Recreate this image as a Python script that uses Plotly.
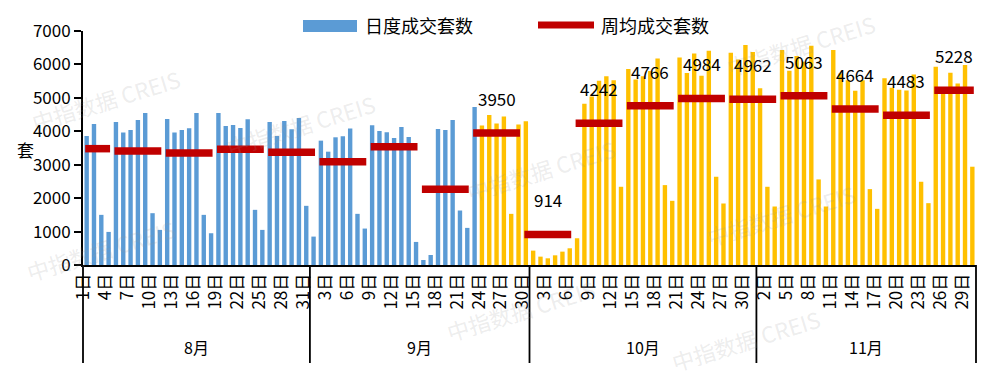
import plotly.graph_objects as go
import pandas as pd

# ---------------- data ----------------
start_date = "2024-08-01"
end_date = "2024-11-30"
highlight_from = "2024-09-24"

aug = [3860, 4220, 1500, 990, 4280, 3960, 4040, 4340, 4550, 1550, 1050,
       4370, 3960, 4040, 4090, 4550, 1500, 950, 4550, 4160, 4190, 4100,
       4360, 1650, 1050, 4280, 3860, 4310, 4060, 4400, 1770]
sep = [850, 3720, 3390, 3820, 3850, 4080, 1530, 1090, 4180, 4010, 3970,
       3800, 4130, 3830, 690, 150, 300, 4070, 4040, 4340, 1630, 1110,
       4730, 4170, 4490, 4230, 4440, 1530, 4200, 4300]
octo = [430, 250, 200, 290, 400, 500, 800, 4820, 5040, 5510, 5650, 5530,
        2340, 5860, 5550, 5650, 5800, 6180, 2390, 1920, 6210, 5740, 6330,
        5660, 6410, 2640, 1840, 6350, 6150, 6580, 6370]
nov = [5290, 2340, 1750, 6430, 5810, 6250, 6080, 6560, 2560, 1750, 6430,
       5730, 5530, 5210, 5530, 2270, 1680, 5590, 5300, 5240, 5220, 5700,
       2490, 1850, 5930, 5240, 5750, 5430, 5980, 2940]

weekly_avg = [3480, 3410, 3350, 3460, 3370, 3090, 3540, 2265, 3950, 914,
              4242, 4766, 4984, 4962, 5063, 4664, 4483, 5228]
weekly_labeled = [False] * 8 + [True] * 10

month_names = ["8月", "9月", "10月", "11月"]
series_names = ["日度成交套数", "周均成交套数"]
y_title = "套"
y_ticks = [0, 1000, 2000, 3000, 4000, 5000, 6000, 7000]
watermark = "中指数据 CREIS"

# ---------------- derived ----------------
daily = aug + sep + octo + nov
dates = pd.date_range(start_date, end_date, freq="D")
n = len(dates)
bar_x = [i + 0.5 for i in range(n)]
bar_colors = ["#5B9BD5" if d < pd.Timestamp(highlight_from) else "#FFC000" for d in dates]

tick_idx = list(range(0, n, 3))
tick_vals = [i + 0.1 for i in tick_idx]
tick_text = [f"{dates[i].day}日" for i in tick_idx]

week_key = dates - pd.to_timedelta(dates.dayofweek, unit="D")
weeks = []
for k in pd.unique(week_key):
    idx = [i for i in range(n) if week_key[i] == k]
    weeks.append((idx[0], idx[-1] + 1))

line_x, line_y = [], []
for (s, e), v in zip(weeks, weekly_avg):
    line_x += [s + 0.3, e - 0.3, None]
    line_y += [v, v, None]

month_bounds = [0]
for m in sorted(set(zip(dates.year, dates.month))):
    month_bounds.append(month_bounds[-1] + sum(1 for d in dates if (d.year, d.month) == m))

# ---------------- figure ----------------
W, H = 989, 377
L, R, T, B = 83, 13, 31, 112
PW, PH = W - L - R, H - T - B


def px(X):
    return (X - L) / PW


def py(Y):
    return (H - B - Y) / PH


FONT = "Noto Sans CJK SC, Noto Sans, sans-serif"

fig = go.Figure()
fig.add_trace(go.Bar(x=bar_x, y=daily, marker=dict(color=bar_colors, line=dict(width=0)),
                     name=series_names[0], showlegend=False, hoverinfo="x+y"))
fig.add_trace(go.Scatter(x=line_x, y=line_y, mode="lines", name=series_names[1],
                         line=dict(color="#C00000", width=7.5), showlegend=False,
                         connectgaps=False))

annotations = []
for (s, e), v, lab in zip(weeks, weekly_avg, weekly_labeled):
    if lab:
        annotations.append(dict(x=(s + e) / 2, y=v, xref="x", yref="y", text=str(v),
                                showarrow=False, xanchor="center", yanchor="bottom", yshift=20,
                                font=dict(size=17, color="black", family=FONT)))

# month labels and separators
shapes = []
for i, name in enumerate(month_names):
    a, b = month_bounds[i], month_bounds[i + 1]
    annotations.append(dict(x=(a + b) / 2 / n, y=py(347), xref="paper", yref="paper",
                            text=name, showarrow=False, xanchor="center", yanchor="middle",
                            font=dict(size=16, color="black", family=FONT)))
for b in month_bounds:
    shapes.append(dict(type="line", xref="paper", yref="paper", x0=b / n, x1=b / n,
                       y0=0, y1=py(363), line=dict(color="black", width=1.8)))

# y title
annotations.append(dict(x=px(25), y=py(149), xref="paper", yref="paper", text=y_title,
                        showarrow=False, xanchor="center", yanchor="middle",
                        font=dict(size=17, color="black", family=FONT)))

# custom legend
shapes.append(dict(type="rect", xref="paper", yref="paper", x0=px(303), x1=px(357),
                   y0=py(32), y1=py(20), fillcolor="#5B9BD5", line=dict(width=0)))
annotations.append(dict(x=px(363), y=py(25), xref="paper", yref="paper", text=series_names[0],
                        showarrow=False, xanchor="left", yanchor="middle",
                        font=dict(size=18, color="black", family=FONT)))
shapes.append(dict(type="line", xref="paper", yref="paper", x0=px(538), x1=px(594),
                   y0=py(25), y1=py(25), line=dict(color="#C00000", width=7)))
annotations.append(dict(x=px(599), y=py(25), xref="paper", yref="paper", text=series_names[1],
                        showarrow=False, xanchor="left", yanchor="middle",
                        font=dict(size=18, color="black", family=FONT)))

# watermarks (faint), kept fully inside the canvas
wm_spots = [(800, 45), (105, 100), (300, 125), (540, 170), (100, 250),
            (780, 215), (520, 310), (745, 340)]
for X, Y in wm_spots:
    annotations.append(dict(x=px(X), y=py(Y), xref="paper", yref="paper", text=watermark,
                            showarrow=False, textangle=-17, xanchor="center", yanchor="middle",
                            font=dict(size=22, color="rgba(150,150,150,0.18)", family=FONT)))

fig.update_layout(
    width=W, height=H, autosize=False,
    margin=dict(l=L, r=R, t=T, b=B, pad=0),
    paper_bgcolor="white", plot_bgcolor="white",
    font=dict(family=FONT, size=16, color="black"),
    bargap=0.4,
    xaxis=dict(range=[0, n], tickmode="array", tickvals=tick_vals, ticktext=tick_text,
               tickangle=-90, showline=True, linecolor="black", linewidth=1.8,
               ticks="", showgrid=False, zeroline=False,
               tickfont=dict(size=17, family=FONT, color="black")),
    yaxis=dict(range=[0, 7000], tickmode="array", tickvals=y_ticks,
               showline=True, linecolor="black", linewidth=1.8, ticks="outside",
               ticklen=7, tickwidth=1.5, tickcolor="black", showgrid=False, zeroline=False,
               tickfont=dict(size=17, family=FONT, color="black")),
    shapes=shapes, annotations=annotations, showlegend=False,
)

fig.write_html("out.html")
